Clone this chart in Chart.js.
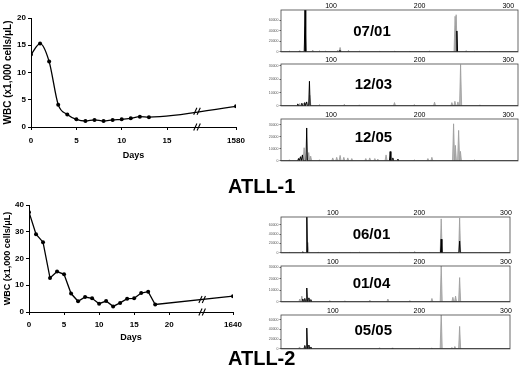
<!DOCTYPE html>
<html><head><meta charset="utf-8">
<script src="https://cdn.jsdelivr.net/npm/chart.js@4"></script>
<style>
html,body{margin:0;padding:0;background:#fff}
body{width:520px;height:374px;position:relative;overflow:hidden;font-family:"Liberation Sans",Arial,sans-serif}
canvas{position:absolute}
.lbl{position:absolute;font-weight:bold;font-size:20px;color:#000;line-height:20px;font-family:"Liberation Sans",Arial,sans-serif;z-index:5}
</style></head><body>
<div class="lbl" style="left:228px;top:176px">ATLL-1</div>
<div class="lbl" style="left:228px;top:348px">ATLL-2</div>
<script>
// ---------- DATA ----------
// ATLL-1 WBC course (x1,000 cells/uL)
const days1 = [0,1,2,3,4,5,6,7,8,9,10,11,12,13,1580];
const wbc1  = [13.3,15.3,12.0,4.1,2.3,1.4,1.1,1.3,1.1,1.3,1.4,1.6,1.9,1.8,3.8];
const xTicks1 = [0,5,10,15,1580];
const yTicks1 = [0,5,10,15,20];
// ATLL-2 WBC course
const days2 = [0,1,2,3,4,5,6,7,8,9,10,11,12,13,14,15,16,17,18,1640];
const wbc2  = [37.3,29.1,26.1,12.7,15.1,14.1,6.9,4.0,5.6,5.1,3.1,4.1,2.1,3.4,5.0,5.1,7.1,7.6,2.8,5.9];
const xTicks2 = [0,5,10,15,20,1640];
const yTicks2 = [0,10,20,30,40];

// GeneScan panels: [size, height]
const sizeTicks = [100,200,300];
const a0701Black = [[64.6,2000],[70.6,90000],[110,3000],[242,40000]];
const a0701Gray  = [[53,1500],[70.8,48000],[79.3,3500],[87,2000],[94,1500],[107.6,3000],[110.2,8500],[119.7,3000],[132,1500],[155,1200],[172,1500],[189,1200],[211,1500],[240,68000],[241.2,71000],[252.5,2500],[262,1000],[279,800]];
const a0701Ticks = [0,20000,40000,60000];
const a1203Black = [[62.4,1500],[67,2000],[70.3,2500],[72.5,3000],[75.6,18500]];
const a1203Gray  = [[64.6,1800],[69,2000],[76,8000],[87,1000],[115,1200],[132,800],[171.6,2500],[194,1000],[216.8,2800],[236.4,2500],[239.8,3500],[243.2,3000],[246.2,31000],[268,800]];
const a1203Ticks = [0,10000,20000,30000];
const a1205Black = [[63.2,2000],[65.5,3500],[67.7,5000],[72.5,27500],[166.7,7800],[169.7,2500],[175.4,1500]];
const a1205Gray  = [[53,1000],[69.6,11000],[74.8,7000],[77,4000],[87,1000],[101.9,2500],[106.4,3000],[110.2,4600],[114.4,3000],[118.9,2500],[123.4,2000],[139.2,2000],[143.7,2500],[149.4,2000],[152.8,1500],[162.1,5000],[194,800],[209.3,2000],[213.8,3000],[238.3,31000],[240.3,13000],[244,25500],[246,8000],[262,800]];
const a1205Ticks = [0,10000,20000,30000];
const b0601Black = [[65.3,2500],[69.9,90000],[225.2,29000],[246.5,25000]];
const b0601Gray  = [[50,1000],[71.1,22000],[83,1500],[120,1000],[131,1500],[154,1000],[177,1200],[194.5,3000],[212,1000],[225.2,72000],[246.5,74000],[270,800]];
const b0601Ticks = [0,20000,40000,60000];
const b0104Black = [[65.3,2500],[67.6,3000],[69.9,12000],[72.3,3500],[74.6,2000]];
const b0104Gray  = [[61.8,2500],[64.2,5000],[96.5,1200],[113.9,1000],[142.8,1500],[163.6,2500],[189,1200],[214.5,3000],[225.2,31000],[238.7,4000],[241.8,5000],[246.5,21000]];
const b0104Ticks = [0,10000,20000,30000];
const b0505Black = [[67.6,7000],[69.9,43000],[72.3,8000],[74.6,4000],[169,2000]];
const b0505Gray  = [[61.5,4000],[66.5,3000],[154,2500],[200,1500],[214.5,2000],[225.2,75000],[237.6,3000],[241,5000],[246.5,46500]];
const b0505Ticks = [0,20000,40000,60000];

// ---------- HELPERS ----------
const FF = '"Liberation Sans", Arial, sans-serif';
function addCanvas(l,t,w,h){
  const c=document.createElement('canvas');
  c.width=w;c.height=h;c.style.left=l+'px';c.style.top=t+'px';
  c.style.width=w+'px';c.style.height=h+'px';
  document.body.appendChild(c);return c;
}
function breakMark(at){
  return {id:'breakMark',afterDatasetsDraw(chart){
    const {ctx,scales:{x,y}}=chart;
    const pts=chart.data.datasets[0].data;
    let yv=0;
    for(let i=0;i<pts.length-1;i++){
      if(pts[i].x<=at&&pts[i+1].x>=at){const t=(at-pts[i].x)/(pts[i+1].x-pts[i].x);yv=pts[i].y+t*(pts[i+1].y-pts[i].y);}
    }
    const px=x.getPixelForValue(at);
    ctx.save();ctx.strokeStyle='#000';ctx.lineWidth=1.1;
    [y.getPixelForValue(yv),y.getPixelForValue(0)].forEach(py=>{
      [-1.7,1.7].forEach(o=>{ctx.beginPath();ctx.moveTo(px+o-1.6,py+3.5);ctx.lineTo(px+o+1.6,py-3.5);ctx.stroke();});
    });
    ctx.restore();
  }};
}
function wbcChart(cv,days,wbc,xTicks,yTicks,lateAt,brk,pad,yW,xH,xPad,interp,titleSize){
  const pos=d=>d>100?lateAt:d;
  new Chart(cv,{type:'line',
    data:{datasets:[{data:days.map((d,i)=>({x:pos(d),y:wbc[i]})),borderColor:'#000',borderWidth:1.3,
      pointRadius:2,pointBackgroundColor:'#000',pointBorderWidth:0,cubicInterpolationMode:interp,tension:0}]},
    options:{animation:false,responsive:false,devicePixelRatio:1,
      layout:{padding:pad},
      plugins:{legend:{display:false},tooltip:{enabled:false}},
      scales:{
        x:{type:'linear',min:0,max:lateAt,
          afterBuildTicks:s=>{s.ticks=xTicks.map(v=>({value:pos(v)}));},
          afterFit:s=>{s.height=xH;},
          ticks:{callback:(v,i)=>String(xTicks[i]),font:{family:FF,size:8,weight:'bold'},color:'#000',padding:xPad,maxRotation:0,autoSkip:false},
          grid:{drawOnChartArea:false,tickLength:3,color:'#000'},border:{color:'#000',width:1},
          title:{display:true,text:'Days',font:{family:FF,size:9,weight:'bold'},color:'#000',padding:{top:0,bottom:4}}},
        y:{min:0,max:yTicks[yTicks.length-1],
          afterBuildTicks:s=>{s.ticks=yTicks.map(v=>({value:v}));},
          afterFit:s=>{s.width=yW;},
          ticks:{font:{family:FF,size:8,weight:'bold'},color:'#000',padding:2},
          grid:{drawOnChartArea:false,tickLength:3,color:'#000'},border:{color:'#000',width:1},
          title:{display:true,text:'WBC (x1,000 cells/μL)',font:{family:FF,size:titleSize,weight:'bold'},color:'#000',padding:{top:2,bottom:0}}}
      }},
    plugins:[breakMark(brk)]
  });
}
function spikes(peaks,w,lo,hi){
  const pts=[{x:lo,y:0}];
  peaks.slice().sort((a,b)=>a[0]-b[0]).forEach(([p,h])=>{pts.push({x:p-w,y:0},{x:p,y:h},{x:p+w,y:0});});
  pts.push({x:hi,y:0});
  return pts;
}
function panel(box,xMin,xMax,yTicks,yMax,black,gray,text,fx,fy){
  const L=268,T=box.t-10,W=box.r+2-L,H=box.b-box.t+12;
  const cv=addCanvas(L,T,W,H);
  const frame={id:'frame',afterDraw(chart){const a=chart.chartArea,c=chart.ctx;c.save();c.strokeStyle='#444';c.lineWidth=0.8;
    c.strokeRect(a.left,a.top,a.right-a.left,a.bottom-a.top);
    c.fillStyle='#000';c.font='bold 15px '+FF;c.textAlign='center';c.textBaseline='middle';
    c.fillText(text,a.left+fx*(a.right-a.left),a.top+fy*(a.bottom-a.top));c.restore();}};
  new Chart(cv,{type:'line',
    data:{datasets:[
      {data:spikes(black,0.8,xMin,xMax),borderColor:'#000',borderWidth:1,pointRadius:0,tension:0,fill:false},
      {data:spikes(gray,1.2,xMin,xMax),borderColor:'#9a9a9a',backgroundColor:'#b8b8b8',borderWidth:0.8,pointRadius:0,tension:0,fill:'origin'}
    ]},
    options:{animation:false,responsive:false,devicePixelRatio:1,
      layout:{padding:{right:2,bottom:2,top:0,left:0}},
      plugins:{legend:{display:false},tooltip:{enabled:false}},
      scales:{
        x:{type:'linear',position:'top',min:xMin,max:xMax,
          afterBuildTicks:s=>{s.ticks=sizeTicks.map(v=>({value:v}));},
          afterFit:s=>{s.height=10;},
          ticks:{font:{family:FF,size:7},color:'#000',padding:0,maxRotation:0,autoSkip:false},
          grid:{drawOnChartArea:false,drawTicks:false},border:{display:false}},
        y:{min:0,max:yMax,
          afterBuildTicks:s=>{s.ticks=yTicks.map(v=>({value:v}));},
          afterFit:s=>{s.width=13;},
          ticks:{callback:v=>String(v),font:{family:FF,size:3.5},color:'#555',padding:1},
          grid:{drawOnChartArea:false,tickLength:1.5,color:'#666'},border:{display:false}}
      }},
    plugins:[frame]
  });
}

// ---------- BUILD ----------
wbcChart(addCanvas(0,0,260,165),days1,wbc1,xTicks1,yTicks1,22.6,18.3,{top:18,right:24,bottom:0,left:0},31,38,6,'monotone',10);
wbcChart(addCanvas(0,185,260,162),days2,wbc2,xTicks2,yTicks2,29.1,24.7,{top:20,right:27,bottom:0,left:0},29,35,5,'default',9);

panel({t:10,b:53,r:518},43.5,311,a0701Ticks,80000,a0701Black,a0701Gray,'07/01',0.384,0.53);
panel({t:64,b:107,r:518},43.5,311,a1203Ticks,31500,a1203Black,a1203Gray,'12/03',0.39,0.49);
panel({t:119,b:162,r:518},43.5,311,a1205Ticks,35000,a1205Black,a1205Gray,'12/05',0.39,0.44);
panel({t:217,b:254,r:510},40.1,304.7,b0601Ticks,76000,b0601Black,b0601Gray,'06/01',0.395,0.5);
panel({t:266,b:303,r:510},40.1,304.7,b0104Ticks,31000,b0104Black,b0104Gray,'01/04',0.395,0.51);
panel({t:315,b:350,r:510},40.1,304.7,b0505Ticks,70000,b0505Black,b0505Gray,'05/05',0.403,0.48);
</script>
</body></html>
